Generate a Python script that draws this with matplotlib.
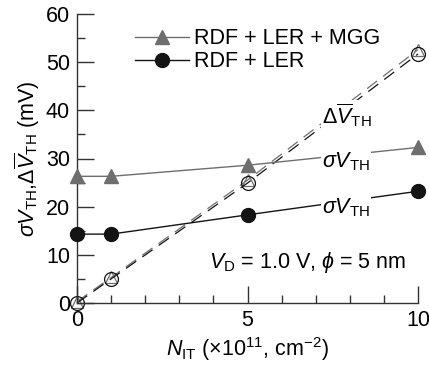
import matplotlib
matplotlib.use("Agg")
import matplotlib.pyplot as plt

plt.rcParams['font.family'] = ['Liberation Sans', 'DejaVu Sans']
plt.rcParams['mathtext.fontset'] = 'custom'
plt.rcParams['mathtext.rm'] = 'Liberation Sans'
plt.rcParams['mathtext.it'] = 'Liberation Sans:italic'
plt.rcParams['mathtext.bf'] = 'Liberation Sans:bold'

# Interface trap density (x1e11 cm^-2)
n_it = [0, 1, 5, 10]
# sigma V_TH (mV)
sigma_mgg = [26.3, 26.3, 28.6, 32.3]
sigma_rdf = [14.3, 14.3, 18.3, 23.2]
# mean shift of V_TH (mV)
shift_mgg = [0.3, 5.3, 25.5, 52.6]
shift_rdf = [0.0, 5.0, 24.9, 51.7]

gray = '#6e6e6e'
black = '#141414'
fs = 15.5

fig = plt.figure(figsize=(4.29, 3.67), dpi=100)
ax = fig.add_axes([77/429, 1 - 303/367, (418 - 77)/429, (303 - 14)/367])

dash = (0, (10, 6))
ax.plot(n_it, shift_mgg, color=gray, lw=0.9, ls=dash, marker='^', ms=8,
        mfc='none', mec=gray, mew=0.9, zorder=2)
ax.plot(n_it, shift_rdf, color=black, lw=0.9, ls=dash, marker='o', ms=10,
        mfc='none', mec=black, mew=0.9, zorder=2)
ax.plot(n_it, sigma_mgg, color=gray, lw=1.0, marker='^', ms=9.5,
        mfc=gray, mec=gray, label='RDF + LER + MGG', zorder=3)
ax.plot(n_it, sigma_rdf, color=black, lw=1.0, marker='o', ms=10,
        mfc=black, mec=black, label='RDF + LER', zorder=3)

ax.set_xlim(0, 10)
ax.set_ylim(0, 60)
ax.set_xticks([0, 5, 10])
ax.set_xticks(range(0, 11), minor=True)
ax.set_yticks(range(0, 61, 10))
ax.set_yticks(range(0, 61, 5), minor=True)
for s in ('top', 'right'):
    ax.spines[s].set_visible(False)
for s in ('left', 'bottom'):
    ax.spines[s].set_color('#333333')
    ax.spines[s].set_linewidth(1.0)
ax.tick_params(which='major', direction='in', length=12, width=1.0,
               labelsize=fs, color='#333333', pad=5)
ax.tick_params(which='minor', direction='in', length=6, width=1.0,
               color='#333333')
for ln in ax.lines:
    ln.set_clip_on(False)

box = dict(facecolor='white', edgecolor='none', pad=1)
ax.text(7.18, 39, r'$\Delta\overline{V}_{\rm TH}$', fontsize=fs, ha='left',
        va='center', bbox=box, zorder=4)
ax.text(7.18, 29.3, r'$\sigma V_{\rm TH}$', fontsize=fs, ha='left',
        va='center', bbox=box, zorder=4)
ax.text(7.18, 19.8, r'$\sigma V_{\rm TH}$', fontsize=fs, ha='left',
        va='center', bbox=box, zorder=4)
ax.text(9.65, 8.4, r'$V_{\rm D}$ = 1.0 V, $\phi$ = 5 nm', fontsize=fs,
        ha='right', va='center')

ax.legend(loc='upper left', bbox_to_anchor=(0.17, 0.95), frameon=False,
          fontsize=fs, handlelength=2.5, handletextpad=0.25,
          labelspacing=0.08, borderpad=0, borderaxespad=0)

ax.set_xlabel(r'$N_{\rm IT}$ ($\times$10$^{11}$, cm$^{-2}$)', fontsize=fs,
              labelpad=3)
ax.set_ylabel(r'$\sigma V_{\rm TH}$,$\Delta\overline{V}_{\rm TH}$ (mV)',
              fontsize=fs, labelpad=3)

fig.savefig('out.png', dpi=100)
